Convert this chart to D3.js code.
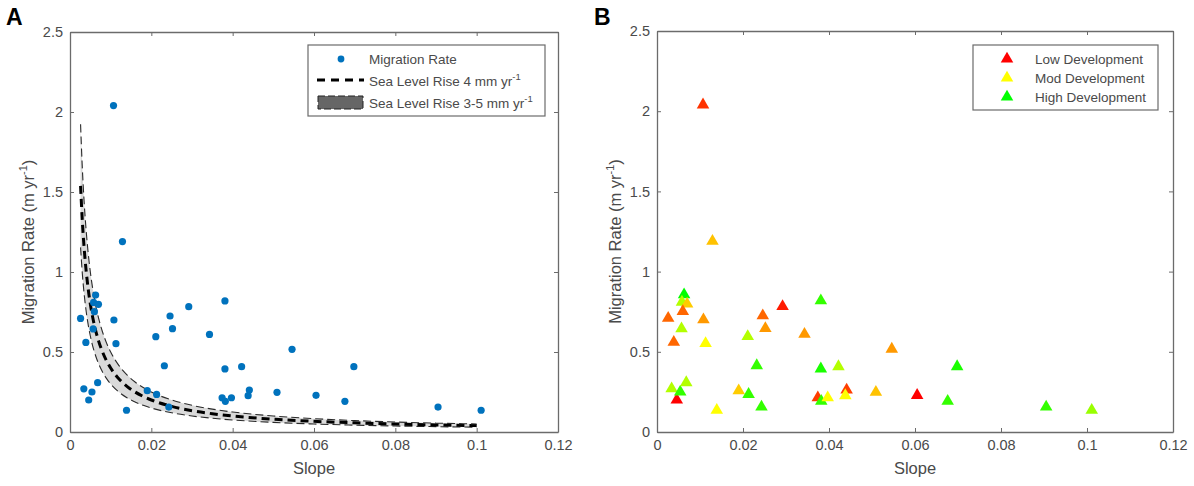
<!DOCTYPE html>
<html>
<head>
<meta charset="utf-8">
<script src="https://cdn.jsdelivr.net/npm/d3@7"></script>
<style>
  body { margin: 0; background: #fff; }
  svg { display: block; font-family: "Liberation Sans", Arial, sans-serif; }
</style>
</head>
<body>
<svg id="chart" width="1194" height="486"></svg>
<script>
// shoreline slope of each site
const slope = [0.0026, 0.0063, 0.0058, 0.0070, 0.0060, 0.0057, 0.0039, 0.0108, 0.0113, 0.0034,
  0.0046, 0.0054, 0.0068, 0.0139, 0.0190, 0.0211, 0.0213, 0.0232, 0.0246, 0.0252,
  0.0243, 0.0292, 0.0343, 0.0381, 0.0381, 0.0374, 0.0382, 0.0397, 0.0422, 0.0441,
  0.0438, 0.0509, 0.0546, 0.0605, 0.0698, 0.0676, 0.0905, 0.1011, 0.0107, 0.0129];
// migration rate (m/yr) of each site
const migration = [0.71, 0.856, 0.81, 0.798, 0.752, 0.644, 0.56, 0.70, 0.552, 0.27,
  0.20, 0.25, 0.308, 0.136, 0.258, 0.596, 0.235, 0.414, 0.725, 0.646,
  0.156, 0.783, 0.61, 0.819, 0.394, 0.214, 0.192, 0.214, 0.408, 0.262,
  0.227, 0.248, 0.517, 0.229, 0.408, 0.192, 0.156, 0.136, 2.04, 1.19];
// development level: 0 = low, 0.5 = moderate, 1 = high
const development = [0.2, 1.0, 0.65, 0.4, 0.2, 0.65, 0.2, 0.3, 0.5, 0.65,
  0.0, 0.9, 0.65, 0.5, 0.4, 0.65, 0.9, 0.9, 0.2, 0.3,
  0.9, 0.05, 0.3, 0.9, 0.95, 0.12, 0.9, 0.5, 0.65, 0.12,
  0.5, 0.38, 0.3, 0.0, 0.95, 0.9, 0.9, 0.7, 0.1, 0.38];

// sea level rise scenarios (mm/yr): lower, central, upper
const slrRates = [3, 4, 5];
const curveSlopes = [0.0026, 0.003, 0.0035, 0.004, 0.0045, 0.005, 0.006, 0.007, 0.008, 0.009,
  0.01, 0.012, 0.014, 0.016, 0.018, 0.02, 0.025, 0.03, 0.035, 0.04,
  0.05, 0.06, 0.07, 0.08, 0.09, 0.1];

const xTicks = [0, 0.02, 0.04, 0.06, 0.08, 0.1, 0.12];
const xTickLabels = ["0", "0.02", "0.04", "0.06", "0.08", "0.1", "0.12"];
const yTicks = [0, 0.5, 1, 1.5, 2, 2.5];
const yTickLabels = ["0", "0.5", "1", "1.5", "2", "2.5"];

const devLegend = ["Low Development", "Mod Development", "High Development"];
const devLegendLevel = [0, 0.5, 1];

const axisColor = "#6b6b6b";
const textColor = "#4a4a4a";
const dotColor = "#0072BD";

const svg = d3.select("#chart");
svg.append("rect").attr("width", 1194).attr("height", 486).attr("fill", "#fff");

const devColor = d3.scaleLinear()
  .domain([0, 0.5, 1])
  .range(["#ff0000", "#ffff00", "#00ff00"]);

function drawFrame(left, right, top, bottom, letter, letterX) {
  const x = d3.scaleLinear().domain([0, 0.12]).range([left, right]);
  const y = d3.scaleLinear().domain([0, 2.5]).range([bottom, top]);
  const g = svg.append("g");

  const fmtX = (d, i) => xTickLabels[i];
  const fmtY = (d, i) => yTickLabels[i];

  const styleAxis = sel => {
    sel.select(".domain").attr("stroke", axisColor).attr("stroke-width", 1.3);
    sel.selectAll(".tick line").attr("stroke", axisColor).attr("stroke-width", 1);
    sel.selectAll(".tick text").attr("fill", textColor).style("font-size", "14.5px")
      .style("font-family", "Liberation Sans, Arial, sans-serif");
  };

  g.append("g").attr("transform", `translate(0,${bottom})`)
    .call(d3.axisBottom(x).tickValues(xTicks).tickFormat(fmtX).tickSizeInner(-4).tickSizeOuter(0).tickPadding(8))
    .call(styleAxis);
  g.append("g").attr("transform", `translate(${left},0)`)
    .call(d3.axisLeft(y).tickValues(yTicks).tickFormat(fmtY).tickSizeInner(-4).tickSizeOuter(0).tickPadding(7))
    .call(styleAxis);
  g.append("g").attr("transform", `translate(0,${top})`)
    .call(d3.axisTop(x).tickValues(xTicks).tickFormat("").tickSizeInner(-4).tickSizeOuter(0))
    .call(styleAxis);
  g.append("g").attr("transform", `translate(${right},0)`)
    .call(d3.axisRight(y).tickValues(yTicks).tickFormat("").tickSizeInner(-4).tickSizeOuter(0))
    .call(styleAxis);

  g.append("text")
    .attr("x", (left + right) / 2).attr("y", 474)
    .attr("text-anchor", "middle").attr("fill", textColor)
    .style("font-size", "16.5px").text("Slope");

  const yl = g.append("text")
    .attr("transform", `translate(${left - 36},${(top + bottom) / 2 + 10}) rotate(-90)`)
    .attr("text-anchor", "middle").attr("fill", textColor)
    .style("font-size", "16.5px");
  yl.append("tspan").text("Migration Rate (m yr");
  yl.append("tspan").attr("dy", -7).style("font-size", "11px").text("-1");
  yl.append("tspan").attr("dy", 7).text(")");

  svg.append("text")
    .attr("x", letterX).attr("y", 25)
    .style("font-size", "23px").style("font-weight", "bold").attr("fill", "#000")
    .text(letter);

  return { x, y };
}

// ---------- Panel A ----------
const A = drawFrame(70, 558, 32, 432, "A", 6);

const band = d3.area()
  .x(s => A.x(s))
  .y0(s => A.y(slrRates[0] / 1000 / s))
  .y1(s => A.y(slrRates[2] / 1000 / s))
  .curve(d3.curveMonotoneX);

svg.append("path").datum(curveSlopes)
  .attr("d", band).attr("fill", "#dadada").attr("stroke", "none");

slrRates.forEach((r, i) => {
  const line = d3.line()
    .x(s => A.x(s))
    .y(s => A.y(r / 1000 / s))
    .curve(d3.curveMonotoneX);
  const central = i === 1;
  svg.append("path").datum(curveSlopes)
    .attr("d", line)
    .attr("fill", "none")
    .attr("stroke", central ? "#000" : "#2a2a2a")
    .attr("stroke-width", central ? 3 : 1.1)
    .attr("stroke-dasharray", central ? "8,5" : "8,4");
});

svg.append("g").selectAll("circle")
  .data(d3.range(slope.length))
  .join("circle")
  .attr("cx", i => A.x(slope[i]))
  .attr("cy", i => A.y(migration[i]))
  .attr("r", 3.6)
  .attr("fill", dotColor);

// legend A
const legA = svg.append("g");
legA.append("rect").attr("x", 308).attr("y", 45).attr("width", 237).attr("height", 71)
  .attr("fill", "#fff").attr("stroke", axisColor).attr("stroke-width", 1.2);
legA.append("circle").attr("cx", 341).attr("cy", 59).attr("r", 3.4).attr("fill", dotColor);
legA.append("line").attr("x1", 317).attr("x2", 364).attr("y1", 80).attr("y2", 80)
  .attr("stroke", "#000").attr("stroke-width", 2.8).attr("stroke-dasharray", "8,6");
legA.append("rect").attr("x", 318).attr("y", 96).attr("width", 45).attr("height", 13)
  .attr("fill", "#666").attr("stroke", "#222").attr("stroke-width", 1).attr("stroke-dasharray", "7,3");

const legText = [["Migration Rate", null], ["Sea Level Rise 4 mm yr", "-1"], ["Sea Level Rise 3-5 mm yr", "-1"]];
const legY = [64, 86, 108];
legText.forEach((t, i) => {
  const tx = legA.append("text").attr("x", 369).attr("y", legY[i])
    .attr("fill", textColor).style("font-size", "13.5px");
  tx.append("tspan").text(t[0]);
  if (t[1]) tx.append("tspan").attr("dy", -6).style("font-size", "9.5px").text(t[1]);
});

// ---------- Panel B ----------
const B = drawFrame(657, 1173, 31, 432, "B", 594);

const tri = d3.symbol().type(d3.symbolTriangle).size(68);

svg.append("g").selectAll("path")
  .data(d3.range(slope.length))
  .join("path")
  .attr("d", tri)
  .attr("transform", i => `translate(${B.x(slope[i])},${B.y(migration[i])})`)
  .attr("fill", i => devColor(development[i]));

const legB = svg.append("g");
legB.append("rect").attr("x", 973).attr("y", 45).attr("width", 185).attr("height", 65)
  .attr("fill", "#fff").attr("stroke", axisColor).attr("stroke-width", 1.2);
const legBY = [59, 78, 97];
devLegend.forEach((t, i) => {
  legB.append("path").attr("d", tri)
    .attr("transform", `translate(1007,${legBY[i]})`)
    .attr("fill", devColor(devLegendLevel[i]));
  legB.append("text").attr("x", 1035).attr("y", legBY[i] + 5)
    .attr("fill", textColor).style("font-size", "13.5px").text(t);
});
</script>
</body>
</html>
